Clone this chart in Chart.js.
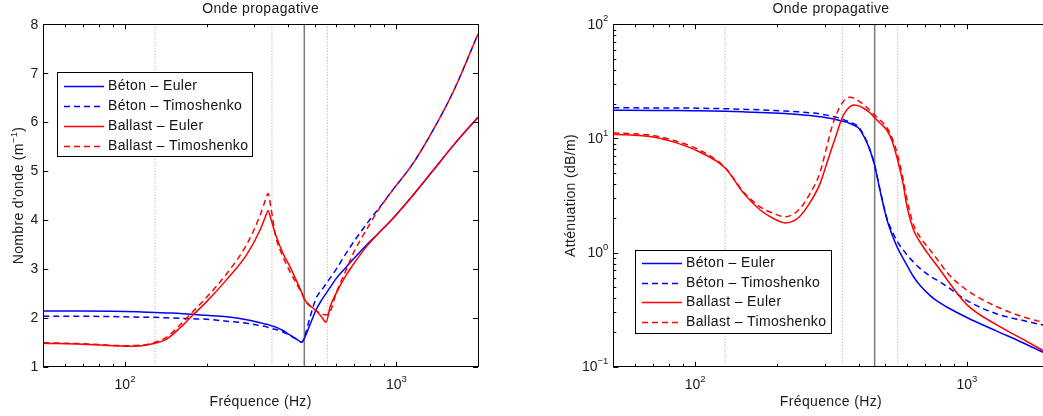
<!DOCTYPE html>
<html>
<head>
<meta charset="utf-8">
<script src="https://cdn.jsdelivr.net/npm/chart.js@4.4.1/dist/chart.umd.min.js"></script>
<style>
html, body { margin: 0; padding: 0; background: #fff; overflow: hidden; }
#wrap { position: relative; width: 1043px; height: 416px; overflow: hidden; }
canvas { position: absolute; top: 0; }
#left { left: 0; }
#right { left: 520px; }
</style>
</head>
<body>
<div id="wrap">
  <canvas id="left" width="520" height="416"></canvas>
  <canvas id="right" width="540" height="416"></canvas>
</div>
<script>
// wavenumber panel (m^-1) vs frequency (Hz)
const freqK = [50, 70, 100, 115, 129, 142, 160, 176, 200, 237, 281, 315, 330, 337, 345, 360, 382, 405, 430, 448, 460, 480, 508, 530, 551, 570, 600, 650, 700, 780, 860, 960, 1150, 1370, 1620, 2000];
const kBetonEuler = [2.14, 2.14, 2.13, 2.12, 2.11, 2.10, 2.09, 2.07, 2.05, 2.02, 1.96, 1.90, 1.87, 1.86, 1.84, 1.81, 1.74, 1.65, 1.56, 1.50, 1.60, 1.85, 2.18, 2.36, 2.50, 2.62, 2.80, 3.02, 3.22, 3.50, 3.73, 4.00, 4.50, 5.02, 5.52, 6.10];
const kBetonTimo = [2.03, 2.03, 2.02, 2.01, 2.01, 2.00, 1.99, 1.98, 1.97, 1.93, 1.89, 1.84, 1.82, 1.80, 1.78, 1.76, 1.71, 1.64, 1.56, 1.50, 1.63, 2.00, 2.42, 2.56, 2.70, 2.81, 2.99, 3.30, 3.57, 3.93, 4.23, 4.58, 5.15, 5.85, 6.62, 7.80];
const kBallastEuler = [1.48, 1.46, 1.42, 1.43, 1.48, 1.56, 1.80, 2.03, 2.33, 2.78, 3.29, 3.80, 4.08, 4.19, 4.02, 3.68, 3.32, 3.05, 2.74, 2.52, 2.37, 2.25, 2.14, 2.02, 1.91, 2.22, 2.50, 2.85, 3.12, 3.47, 3.73, 4.00, 4.50, 5.02, 5.52, 6.10];
const kBallastTimo = [1.49, 1.47, 1.43, 1.44, 1.50, 1.60, 1.86, 2.10, 2.42, 2.90, 3.50, 4.10, 4.42, 4.54, 4.25, 3.65, 3.25, 2.95, 2.68, 2.50, 2.36, 2.24, 2.14, 2.08, 2.06, 2.12, 2.50, 2.95, 3.36, 3.82, 4.21, 4.58, 5.15, 5.85, 6.62, 7.80];

// attenuation panel (dB/m) vs frequency (Hz)
const freqA = [50, 70, 86, 104, 129, 151, 174, 195, 214, 240, 265, 288, 305, 320, 332, 347, 360, 370, 383, 400, 420, 440, 458, 480, 508, 530, 556, 584, 601, 635, 671, 733, 800, 850, 1000, 1290, 1600, 2000];
const aBetonEuler = [17.7, 17.6, 17.6, 17.5, 17.3, 17.1, 16.9, 16.7, 16.5, 16.2, 15.9, 15.5, 15.2, 14.9, 14.6, 14.2, 13.9, 13.6, 13.1, 12.3, 10.2, 7.9, 5.8, 3.45, 1.95, 1.45, 1.10, 0.88, 0.78, 0.62, 0.52, 0.42, 0.36, 0.33, 0.27, 0.205, 0.163, 0.127];
const aBetonTimo = [18.6, 18.5, 18.5, 18.4, 18.2, 18.0, 17.8, 17.6, 17.4, 17.1, 16.8, 16.4, 16.0, 15.6, 15.3, 14.8, 14.3, 14.0, 13.5, 12.6, 10.4, 8.0, 5.8, 3.5, 2.0, 1.55, 1.24, 1.05, 0.96, 0.83, 0.73, 0.62, 0.55, 0.50, 0.38, 0.29, 0.255, 0.226];
const aBallastEuler = [10.9, 10.3, 9.1, 7.6, 5.5, 3.3, 2.35, 1.98, 1.82, 2.02, 2.75, 4.0, 6.0, 8.5, 11.0, 15.0, 17.5, 18.8, 19.6, 19.3, 18.2, 16.8, 15.2, 13.6, 11.8, 9.6, 6.5, 3.9, 2.6, 1.60, 1.25, 0.92, 0.70, 0.57, 0.35, 0.232, 0.175, 0.13];
const aBallastTimo = [11.2, 10.6, 9.4, 7.9, 5.55, 3.38, 2.5, 2.2, 2.06, 2.35, 3.3, 5.0, 8.4, 13.0, 16.5, 20.3, 22.3, 22.9, 22.6, 21.3, 19.5, 17.6, 16.0, 14.5, 12.4, 10.2, 7.2, 4.3, 3.0, 1.78, 1.38, 1.05, 0.80, 0.66, 0.47, 0.335, 0.275, 0.238];

// vertical reference frequencies (Hz)
const markDotted = [129, 348, 557];
const markSolid = [458];

const seriesNames = ['Béton – Euler', 'Béton – Timoshenko', 'Ballast – Euler', 'Ballast – Timoshenko'];
const yTicksK = [1, 2, 3, 4, 5, 6, 7, 8];
const xLabelTicks = [100, 1000];
const yLabelTicksA = [0.1, 1, 10, 100];

const FONT = '"Liberation Sans", Arial, Helvetica, sans-serif';

function pts(xs, ys) {
  return xs.map((x, i) => ({x: x, y: ys[i]}));
}

function curve(label, xs, ys, color, dashed, order) {
  return {
    label: label, data: pts(xs, ys), borderColor: color, borderWidth: 1.5,
    borderDash: dashed ? [6, 4] : [], pointRadius: 0, fill: false,
    cubicInterpolationMode: 'monotone', order: order
  };
}

function markers(y0, y1) {
  const out = [];
  markDotted.forEach(f => out.push({data: [{x: f, y: y0}, {x: f, y: y1}], borderColor: '#a0a0a0',
    borderWidth: 1, borderDash: [1, 2], pointRadius: 0, order: 10, isMark: true}));
  markSolid.forEach(f => out.push({data: [{x: f, y: y0}, {x: f, y: y1}], borderColor: '#7a7a7a',
    borderWidth: 1.5, pointRadius: 0, order: 10, isMark: true}));
  return out;
}

function logTicks(min, max) {
  const out = [];
  for (let e = Math.floor(Math.log10(min)); e <= Math.ceil(Math.log10(max)); e++) {
    for (let m = 1; m < 10; m++) {
      const v = m * Math.pow(10, e);
      if (v >= min * 0.999 && v <= max * 1.001) out.push({v: v, major: m === 1});
    }
  }
  return out;
}

function sup(ctx, base, exp, x, y, align) {
  ctx.font = '14px ' + FONT;
  const bw = ctx.measureText(base).width;
  ctx.font = '9.5px ' + FONT;
  const ew = ctx.measureText(exp).width;
  let x0 = x;
  if (align === 'right') x0 = x - bw - ew;
  if (align === 'center') x0 = x - (bw + ew) / 2;
  ctx.textAlign = 'left';
  ctx.textBaseline = 'middle';
  ctx.font = '14px ' + FONT;
  ctx.fillText(base, x0, y);
  ctx.font = '9.5px ' + FONT;
  ctx.fillText(exp, x0 + bw, y - 6);
}

function expOf(v) {
  return String(Math.round(Math.log10(v))).replace('-', '\u2212');
}

const matlabAxes = {
  id: 'matlabAxes',
  afterDatasetsDraw(chart, args, o) {
    const ctx = chart.ctx, a = chart.chartArea;
    const xs = chart.scales.x, ys = chart.scales.y;
    ctx.save();
    ctx.setLineDash([]);
    ctx.strokeStyle = '#000';
    ctx.lineWidth = 1;
    ctx.strokeRect(Math.round(a.left) + 0.5, Math.round(a.top) + 0.5,
      Math.round(a.right - a.left), Math.round(a.bottom - a.top));

    ctx.beginPath();
    logTicks(xs.min, xs.max).forEach(t => {
      const px = Math.round(xs.getPixelForValue(t.v)) + 0.5;
      const len = t.major ? 5 : 3;
      ctx.moveTo(px, a.bottom); ctx.lineTo(px, a.bottom - len);
      ctx.moveTo(px, a.top); ctx.lineTo(px, a.top + len);
    });
    const yt = o.logY ? logTicks(ys.min, ys.max) : yTicksK.map(v => ({v: v, major: true}));
    yt.forEach(t => {
      const py = Math.round(ys.getPixelForValue(t.v)) + 0.5;
      const len = t.major ? 5 : 3;
      ctx.moveTo(a.left, py); ctx.lineTo(a.left + len, py);
      ctx.moveTo(a.right, py); ctx.lineTo(a.right - len, py);
    });
    ctx.stroke();

    // tick labels
    ctx.fillStyle = '#1a1a1a';
    xLabelTicks.forEach(v => sup(ctx, '10', expOf(v), xs.getPixelForValue(v), 385, 'center'));
    if (o.logY) {
      yLabelTicksA.forEach(v => sup(ctx, '10', expOf(v), a.left - 5, ys.getPixelForValue(v) + 0.5, 'right'));
    } else {
      ctx.font = '14px ' + FONT;
      ctx.textAlign = 'right';
      ctx.textBaseline = 'middle';
      yTicksK.forEach(v => ctx.fillText(String(v), a.left - 5, ys.getPixelForValue(v) + 0.5));
    }

    // title and axis labels (slightly spaced, like the original export)
    ctx.letterSpacing = '0.35px';
    const cx = (a.left + a.right) / 2;
    ctx.font = '14px ' + FONT;
    ctx.textAlign = 'center';
    ctx.textBaseline = 'alphabetic';
    ctx.fillText(o.title, cx, 13);
    ctx.fillText(o.xLabel, cx, 406);

    ctx.save();
    ctx.translate(o.yLabelX, (a.top + a.bottom) / 2);
    ctx.rotate(-Math.PI / 2);
    const parts = o.yLabel;
    ctx.font = '14px ' + FONT;
    const w0 = ctx.measureText(parts[0]).width;
    const w2 = parts[2] ? ctx.measureText(parts[2]).width : 0;
    ctx.font = '9.5px ' + FONT;
    const w1 = parts[1] ? ctx.measureText(parts[1]).width : 0;
    let x0 = -(w0 + w1 + w2) / 2;
    ctx.textAlign = 'left';
    ctx.font = '14px ' + FONT;
    ctx.fillText(parts[0], x0, 0);
    if (parts[1]) {
      ctx.font = '9.5px ' + FONT;
      ctx.fillText(parts[1], x0 + w0, -6);
      ctx.font = '14px ' + FONT;
      ctx.fillText(parts[2], x0 + w0 + w1, 0);
    }
    ctx.restore();

    // legend box
    const lg = o.legend;
    ctx.fillStyle = '#fff';
    ctx.fillRect(lg.x, lg.y, lg.w, lg.h);
    ctx.strokeStyle = '#000';
    ctx.lineWidth = 1;
    ctx.strokeRect(lg.x + 0.5, lg.y + 0.5, lg.w, lg.h);
    chart.data.datasets.filter(d => !d.isMark).forEach((d, i) => {
      const cy = Math.round(lg.y + lg.row0 + i * lg.step) + 0.5;
      ctx.strokeStyle = d.borderColor;
      ctx.lineWidth = d.borderWidth;
      ctx.setLineDash(d.borderDash);
      ctx.beginPath();
      ctx.moveTo(lg.x + 7, cy);
      ctx.lineTo(lg.x + 47, cy);
      ctx.stroke();
      ctx.setLineDash([]);
      ctx.fillStyle = '#111';
      ctx.font = '14px ' + FONT;
      ctx.textAlign = 'left';
      ctx.textBaseline = 'middle';
      ctx.fillText(d.label, lg.x + 51, cy);
    });
    ctx.letterSpacing = '0px';
    ctx.restore();
  }
};

function makeChart(id, xsArr, ys, yScale, padRight, yWidth, opts) {
  const datasets = [
    curve(seriesNames[0], xsArr, ys[0], '#0000ff', false, 4),
    curve(seriesNames[1], xsArr, ys[1], '#0000ff', true, 3),
    curve(seriesNames[2], xsArr, ys[2], '#ff0000', false, 2),
    curve(seriesNames[3], xsArr, ys[3], '#ff0000', true, 1)
  ].concat(markers(yScale.min, yScale.max));
  return new Chart(document.getElementById(id), {
    type: 'line',
    data: {datasets: datasets},
    plugins: [matlabAxes],
    options: {
      responsive: false,
      animation: false,
      events: [],
      devicePixelRatio: 1,
      layout: {padding: {left: 0, right: padRight, top: 24.3, bottom: 0}},
      scales: {
        x: {
          type: 'logarithmic', min: 50, max: 2000,
          grid: {display: false}, border: {display: false}, ticks: {display: false},
          afterFit: s => { s.height = 416 - 366.7; }
        },
        y: Object.assign({
          grid: {display: false}, border: {display: false}, ticks: {display: false},
          afterFit: s => { s.width = yWidth; }
        }, yScale)
      },
      plugins: {
        legend: {display: false},
        tooltip: {enabled: false},
        matlabAxes: opts
      }
    }
  });
}

makeChart('left', freqK, [kBetonEuler, kBetonTimo, kBallastEuler, kBallastTimo],
  {type: 'linear', min: 1, max: 8}, 520 - 478, 43.3, {
    logY: false,
    title: 'Onde propagative',
    xLabel: 'Fréquence (Hz)',
    yLabel: ["Nombre d'onde (m", '\u22121', ')'],
    yLabelX: 23,
    legend: {x: 57, y: 72, w: 195, h: 84, row0: 14, step: 20}
  });

makeChart('right', freqA, [aBetonEuler, aBetonTimo, aBallastEuler, aBallastTimo],
  {type: 'logarithmic', min: 0.1, max: 100}, 540 - 528.6, 93.3, {
    logY: true,
    title: 'Onde propagative',
    xLabel: 'Fréquence (Hz)',
    yLabel: ['Atténuation (dB/m)'],
    yLabelX: 55,
    legend: {x: 115, y: 250, w: 196, h: 83, row0: 13, step: 19.7}
  });
</script>
</body>
</html>
